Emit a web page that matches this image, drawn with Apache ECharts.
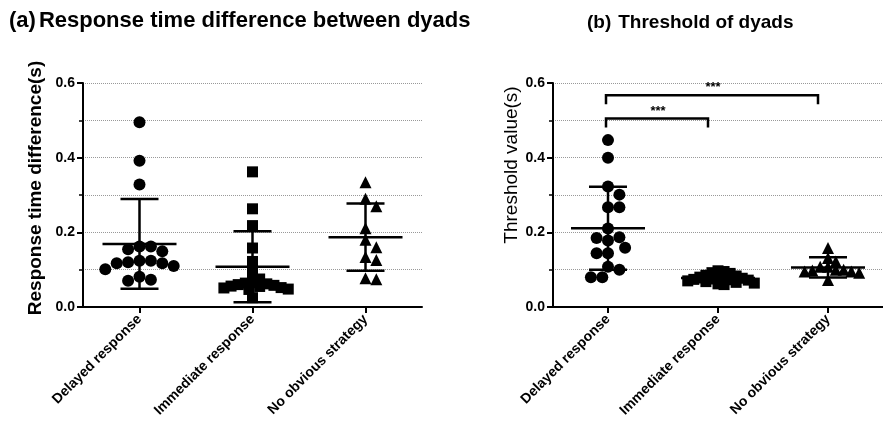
<!DOCTYPE html>
<html>
<head>
<meta charset="utf-8">
<script src="https://cdn.jsdelivr.net/npm/echarts@6/dist/echarts.min.js"></script>
<style>
html, body { margin: 0; padding: 0; background: #fff; }
#main { width: 883px; height: 441px; }
</style>
</head>
<body>
<div id="main"></div>
<script>
// 分组
var categories = ['Delayed response', 'Immediate response', 'No obvious strategy'];

// (a) 反应时间差
var respDelayed = [0.495, 0.392, 0.328, 0.149, 0.162, 0.155, 0.162, 0.110, 0.124, 0.117, 0.117, 0.120, 0.124, 0.101, 0.081, 0.070, 0.073];
var respImmediate = [0.362, 0.263, 0.218, 0.158, 0.122, 0.090, 0.075, 0.064, 0.062, 0.058, 0.055, 0.051, 0.048, 0.047, 0.052, 0.056, 0.060, 0.065, 0.025];
var respNone = [0.334, 0.290, 0.270, 0.211, 0.180, 0.160, 0.134, 0.126, 0.074, 0.077];
var respMean = [0.169, 0.108, 0.187];
var respSD = [0.120, 0.095, 0.090];

// (b) 阈值
var thrDelayed = [0.447, 0.400, 0.323, 0.301, 0.267, 0.267, 0.210, 0.178, 0.185, 0.187, 0.159, 0.144, 0.144, 0.100, 0.108, 0.080, 0.080];
var thrImmediate = [0.097, 0.095, 0.092, 0.090, 0.085, 0.083, 0.080, 0.080, 0.078, 0.077, 0.075, 0.074, 0.073, 0.072, 0.070, 0.068, 0.066, 0.064, 0.062, 0.060];
var thrNone = [0.158, 0.131, 0.122, 0.108, 0.108, 0.100, 0.100, 0.098, 0.095, 0.095, 0.092, 0.072];
var thrMean = [0.211, 0.078, 0.106];
var thrSD = [0.111, 0.012, 0.027];

// 显著性标记
var sigPairs = [[0, 1], [0, 2]];
var sigLevels = [0.505, 0.567];
var sigLabels = ['***', '***'];

var yTicks = [0, 0.2, 0.4, 0.6];

var chart = echarts.init(document.getElementById('main'));

function yAxisCfg(gridIndex, name, bold, size, gap, shift) {
    return {
        type: 'value', gridIndex: gridIndex,
        min: yTicks[0], max: yTicks[yTicks.length - 1], interval: yTicks[1] - yTicks[0],
        name: name, nameLocation: 'middle', nameGap: gap,
        nameTextStyle: {
            color: '#000', fontSize: size, fontWeight: bold ? 'bold' : 'normal', fontFamily: 'Liberation Sans',
            padding: [0, 0, 0, shift]
        },
        axisLine: { show: true, onZero: false, lineStyle: { color: '#000', width: 2 } },
        axisTick: { show: true, length: 6, lineStyle: { color: '#000', width: 2 } },
        minorTick: { show: true, splitNumber: 2, length: 4, lineStyle: { color: '#000', width: 1.5 } },
        axisLabel: {
            color: '#000', fontSize: 14, fontWeight: 'bold', fontFamily: 'Liberation Sans', margin: 8,
            formatter: function (v) { return v.toFixed(1); }
        },
        splitLine: { show: true, lineStyle: { color: '#999', type: 'dotted', width: 1 } },
        minorSplitLine: { show: true, lineStyle: { color: '#999', type: 'dotted', width: 1 } }
    };
}

function catAxis(gridIndex) {
    return {
        type: 'category', gridIndex: gridIndex, data: categories, boundaryGap: true,
        axisLine: { onZero: false, lineStyle: { color: '#000', width: 2 } },
        axisTick: { show: true, alignWithLabel: true, length: 6, lineStyle: { color: '#000', width: 2 } },
        axisLabel: {
            color: '#000', fontSize: 14, fontWeight: 'bold', fontFamily: 'Liberation Sans',
            rotate: 45, margin: 10, interval: 0
        },
        splitLine: { show: false }
    };
}

function valAxis(gridIndex) {
    return { type: 'value', gridIndex: gridIndex, show: false, min: -0.5, max: 2.5, splitLine: { show: false } };
}

var baseOption = {
    animation: false,
    backgroundColor: '#fff',
    title: [
        {
            left: 4, top: 5,
            text: '{p|(a)}{t|Response time difference between dyads}',
            textStyle: {
                rich: {
                    p: { fontSize: 22, fontFamily: 'Liberation Sans', color: '#000', padding: [0, 3, 0, 0] },
                    t: { fontSize: 22, fontWeight: 'bold', fontFamily: 'Liberation Sans', color: '#000' }
                }
            }
        },
        {
            left: 582, top: 8,
            text: '{p|(b)}{t|Threshold of dyads}',
            textStyle: {
                rich: {
                    p: { fontSize: 19, fontWeight: 'bold', fontFamily: 'Liberation Sans', color: '#000', padding: [0, 7, 0, 0] },
                    t: { fontSize: 19, fontWeight: 'bold', fontFamily: 'Liberation Sans', color: '#000' }
                }
            }
        }
    ],
    grid: [
        { left: 83, top: 83, width: 339, height: 224 },
        { left: 553, top: 83, width: 336, height: 224 }
    ],
    xAxis: [catAxis(0), valAxis(0), catAxis(1), valAxis(1)],
    yAxis: [
        yAxisCfg(0, 'Response time difference(s)', true, 19, 38, 14),
        yAxisCfg(1, 'Threshold value(s)', false, 19, 30, 60)
    ],
    series: []
};
chart.setOption(baseOption);

// 简单蜂群排布，避免点重叠
function swarm(vals, xIdx, yIdx, center, size, gapRatio) {
    var finder = { xAxisIndex: xIdx, yAxisIndex: yIdx };
    var p0 = chart.convertToPixel(finder, [center, 0]);
    var p1 = chart.convertToPixel(finder, [center + 1, 0]);
    var unit = p1[0] - p0[0];
    var pts = vals.map(function (v) {
        return { v: v, py: chart.convertToPixel(finder, [center, v])[1] };
    });
    pts.sort(function (a, b) { return b.v - a.v; });
    var placed = [];
    var minDist = size * gapRatio;
    var step = minDist / 2;
    var out = [];
    pts.forEach(function (p) {
        var dx = 0;
        for (var k = 0; k < 60; k++) {
            var cands = k === 0 ? [0] : [k * step, -k * step];
            var found = false;
            for (var c = 0; c < cands.length; c++) {
                var ok = placed.every(function (q) {
                    return Math.hypot(cands[c] - q.dx, p.py - q.py) >= minDist;
                });
                if (ok) { dx = cands[c]; found = true; break; }
            }
            if (found) break;
        }
        placed.push({ dx: dx, py: p.py });
        out.push([center + dx / unit, p.v]);
    });
    return out;
}

function scatter(vals, xIdx, yIdx, center, symbol, size, gapRatio) {
    return {
        type: 'scatter', xAxisIndex: xIdx, yAxisIndex: yIdx,
        symbol: symbol, symbolSize: size,
        itemStyle: { color: '#000', opacity: 1 },
        data: swarm(vals, xIdx, yIdx, center, size, gapRatio),
        z: 3
    };
}

function errorBars(means, sds, xIdx, yIdx) {
    return {
        type: 'custom', xAxisIndex: xIdx, yAxisIndex: yIdx, z: 5,
        data: means.map(function (m, i) { return [i, m, sds[i]]; }),
        encode: { x: 0, y: 1 },
        renderItem: function (params, api) {
            var x = api.value(0), m = api.value(1), s = api.value(2);
            var c = api.coord([x, m]);
            var hi = api.coord([x, m + s]);
            var lo = api.coord([x, m - s]);
            var st = { stroke: '#000', lineWidth: 2.5 };
            return {
                type: 'group',
                children: [
                    { type: 'line', shape: { x1: c[0] - 37, y1: c[1], x2: c[0] + 37, y2: c[1] }, style: st },
                    { type: 'line', shape: { x1: c[0], y1: hi[1], x2: c[0], y2: lo[1] }, style: st },
                    { type: 'line', shape: { x1: c[0] - 19, y1: hi[1], x2: c[0] + 19, y2: hi[1] }, style: st },
                    { type: 'line', shape: { x1: c[0] - 19, y1: lo[1], x2: c[0] + 19, y2: lo[1] }, style: st }
                ]
            };
        }
    };
}

function brackets(xIdx, yIdx) {
    return {
        type: 'custom', xAxisIndex: xIdx, yAxisIndex: yIdx, z: 5,
        data: sigPairs.map(function (p, i) { return [p[0], p[1], sigLevels[i], i]; }),
        encode: { x: [0, 1], y: 2 },
        renderItem: function (params, api) {
            var a = api.coord([api.value(0), api.value(2)]);
            var b = api.coord([api.value(1), api.value(2)]);
            var drop = 9;
            var st = { stroke: '#000', lineWidth: 2.5, fill: null };
            return {
                type: 'group',
                children: [
                    { type: 'polyline', shape: { points: [[a[0] - 2, a[1] + drop], [a[0] - 2, a[1]], [b[0] - 10, b[1]], [b[0] - 10, b[1] + drop]] }, style: st },
                    {
                        type: 'text',
                        style: {
                            text: sigLabels[api.value(3)], x: (a[0] + b[0]) / 2 - 5, y: a[1] - 1,
                            align: 'center', verticalAlign: 'bottom',
                            fill: '#000', font: 'bold 13px "Liberation Sans"'
                        }
                    }
                ]
            };
        }
    };
}

chart.setOption({
    series: [
        scatter(respDelayed, 1, 0, 0, 'circle', 12, 0.95),
        scatter(respImmediate, 1, 0, 1, 'rect', 11, 0.65),
        scatter(respNone, 1, 0, 2, 'triangle', 12, 0.9),
        errorBars(respMean, respSD, 1, 0),
        scatter(thrDelayed, 3, 1, 0, 'circle', 12, 0.95),
        scatter(thrImmediate, 3, 1, 1, 'rect', 11, 0.55),
        scatter(thrNone, 3, 1, 2, 'triangle', 12, 0.65),
        errorBars(thrMean, thrSD, 3, 1),
        brackets(3, 1)
    ]
});
</script>
</body>
</html>
